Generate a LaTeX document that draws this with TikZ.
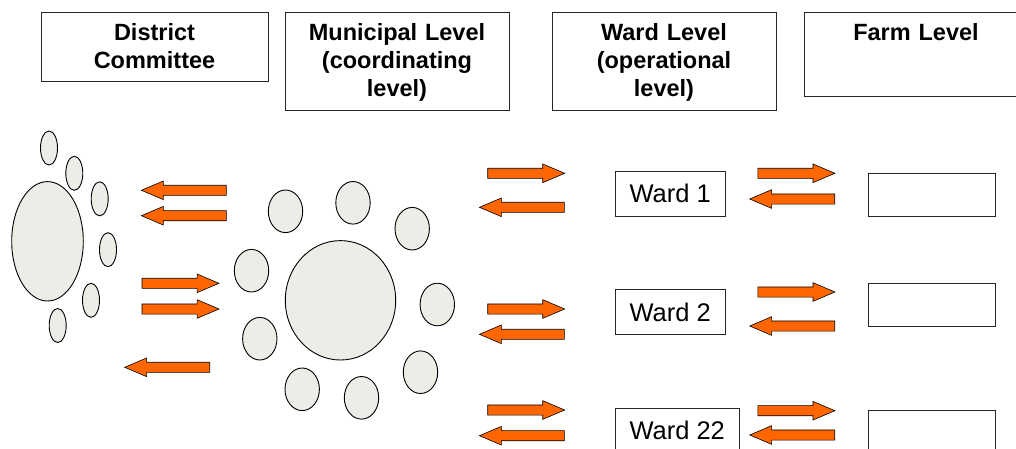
\documentclass[tikz,border=0pt]{standalone}
\usepackage{fontspec}
\setmainfont{Liberation Sans}
\usetikzlibrary{shapes.arrows}

\definecolor{arroworange}{RGB}{255,102,0}
\definecolor{seatgray}{RGB}{238,236,230}

\begin{document}
\begin{tikzpicture}[x=1pt,y=-1pt,
  level box/.style={draw=black!85,line width=1pt,anchor=north,align=center,inner sep=0pt,text width=#1,text height=28pt,font=\fontsize{23.5}{28}\selectfont\bfseries},
  ward box/.style={draw=black!85,line width=1pt,anchor=west,inner xsep=14.5pt,inner ysep=0pt,minimum height=45pt,font=\fontsize{25.5}{30}\selectfont},
  farm box/.style={draw=black!85,line width=1.2pt,anchor=west,minimum width=127pt,minimum height=43pt,inner sep=0pt},
  seat/.style={draw=black,line width=0.9pt,fill=seatgray},
  flow/.style={single arrow,draw=black,line width=0.6pt,fill=arroworange,inner xsep=0pt,inner ysep=4.75pt,single arrow head extend=4.25pt,single arrow tip angle=46,anchor=tail},
  fwd arrow/.style={flow,minimum height=77pt},
  back arrow/.style={flow,minimum height=85pt,shape border rotate=180}]
 \useasboundingbox (0,0) rectangle (1016,448);

 % level headings
 \node[level box=227pt,text depth=41pt] (district) at (154.5,12) {District\\Committee};
 \node[level box=224pt,text depth=70pt] (municipal) at (397,12) {Municipal Level\\(coordinating\\level)};
 \node[level box=224pt,text depth=70pt] (wardlevel) at (664,12) {Ward Level\\(operational\\level)};
 \node[level box=224pt,text depth=56pt] (farmlevel) at (916,12) {Farm Level};

 % district committee
 \draw[seat] (47.5,241.3) ellipse [x radius=35.8, y radius=59.7];
 \foreach \cx/\cy in {49/148,74.3/173.3,99.7/198.8,108/249.7,91/300.3,57.7/325.5}
    \draw[seat] (\cx,\cy) ellipse [x radius=8.5, y radius=17];

 % municipal round table
 \draw[seat] (340.5,300.3) ellipse [x radius=55.2, y radius=59.7];
 \foreach \cx/\cy in {285.5/211.3,353/202.8,412.2/228.7,251.5/270.7,437.3/304.5,259.8/338.7,420.5/372.2,302.2/389.3,361.5/397.8}
    \draw[seat] (\cx,\cy) ellipse [x radius=17.2, y radius=21.3];

 \node[back arrow] (dm1) at (226.7,190.3) {};
 \node[back arrow] (dm2) at (226.7,215.7) {};
 \node[fwd arrow] (md1) at (141.7,283.3) {};
 \node[fwd arrow] (md2) at (141.7,309) {};
 \node[back arrow] (dm3) at (210,367.3) {};

 % wards and farms
 \node[ward box] (ward1) at (614.5,193.5) {Ward 1};
 \node[ward box] (ward2) at (614.5,312.2) {Ward 2};
 \node[ward box] (ward22) at (614.5,430.8) {Ward 22};
 \node[farm box] (farm1) at (868,194.7) {};
 \node[farm box] (farm2) at (868,304.7) {};
 \node[farm box] (farm22) at (868,432) {};

 \foreach \ya/\yb [count=\i] in {173.3/207.3,309/334.3,410/435.7} {
    \node[fwd arrow] (mw\i) at (487.4,\ya) {};
    \node[back arrow] (wm\i) at (564.7,\yb) {};
 }
 \foreach \ya/\yb [count=\i] in {173.3/199,292/326,410.7/435} {
    \node[fwd arrow] (wf\i) at (757.6,\ya) {};
    \node[back arrow] (fw\i) at (835,\yb) {};
 }
\end{tikzpicture}
\end{document}
